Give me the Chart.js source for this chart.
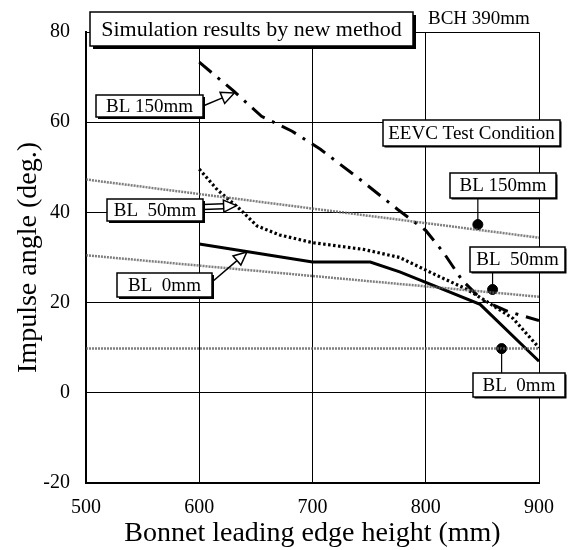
<!DOCTYPE html>
<html>
<head>
<meta charset="utf-8">
<script src="https://cdn.jsdelivr.net/npm/chart.js@4.4.1/dist/chart.umd.min.js"></script>
<style>
  html, body { margin: 0; padding: 0; background: #fff; }
</style>
</head>
<body>
<canvas id="impulseChart" width="574" height="550"></canvas>
<script>
// simulation results by new method
const bl150X = [600, 630, 655, 682, 707, 742, 775, 800, 816, 832, 850, 873, 900];
const bl150Y = [73.3, 67, 61.3, 58, 54, 47.3, 40.7, 36, 31, 25, 20.5, 18, 16];
const bl50X = [600, 616, 636, 651, 671, 700, 745, 777, 810, 836, 854, 877, 900];
const bl50Y = [49.6, 45, 40.7, 37, 35, 33.3, 31.8, 30, 26, 23, 20.2, 16.5, 10];
const bl0X = [600, 700, 751, 777, 800, 848, 900];
const bl0Y = [33, 29, 29, 26.8, 24.5, 19.6, 7];

// EEVC test condition lines
const eevcX = [500, 900];
const eevc150Y = [47.3, 34.4];
const eevc50Y = [30.5, 21.3];
const eevc0Y = [9.8, 9.8];
const eevcPtX = [846, 859, 867];
const eevcPtY = [37.3, 22.9, 9.8];

const xTicks = [500, 600, 700, 800, 900];
const yTicks = [-20, 0, 20, 40, 60, 80];

function pts(xs, ys) {
    return xs.map((x, i) => ({ x: x, y: ys[i] }));
}

const FONT = "'Liberation Serif', 'DejaVu Serif', serif";
const greyLine = {
    borderColor: 'rgba(95,95,95,0.8)',
    borderWidth: 2.5,
    borderDash: [2, 1],
    showLine: true,
    pointRadius: 0
};

// boxes, arrows and notes
const notesPlugin = {
    id: 'notes',
    afterDatasetsDraw(chart) {
        const ctx = chart.ctx;
        const xs = chart.scales.x, ys = chart.scales.y;

        function box(x1, y1, x2, y2, text, size, shadow) {
            ctx.save();
            if (shadow) {
                ctx.fillStyle = '#000';
                ctx.fillRect(x1 + shadow, y1 + shadow, x2 - x1, y2 - y1);
            }
            ctx.fillStyle = '#fff';
            ctx.fillRect(x1, y1, x2 - x1, y2 - y1);
            ctx.strokeStyle = '#000';
            ctx.lineWidth = 1.5;
            ctx.strokeRect(x1, y1, x2 - x1, y2 - y1);
            ctx.fillStyle = '#000';
            ctx.font = size + 'px ' + FONT;
            ctx.textAlign = 'center';
            ctx.textBaseline = 'middle';
            ctx.fillText(text, (x1 + x2) / 2, (y1 + y2) / 2 + 1);
            ctx.restore();
        }

        // hollow arrow head, single or double shaft
        function arrow(x1, y1, x2, y2, wide) {
            const ang = Math.atan2(y2 - y1, x2 - x1);
            const len = 13, half = 6;
            const c = Math.cos(ang), s = Math.sin(ang);
            const bx = x2 - len * c, by = y2 - len * s;
            ctx.save();
            ctx.strokeStyle = '#000';
            ctx.lineWidth = 1.5;
            ctx.beginPath();
            if (wide) {
                ctx.moveTo(x1 + wide * s, y1 - wide * c);
                ctx.lineTo(bx + wide * s, by - wide * c);
                ctx.moveTo(x1 - wide * s, y1 + wide * c);
                ctx.lineTo(bx - wide * s, by + wide * c);
            } else {
                ctx.moveTo(x1, y1);
                ctx.lineTo(bx, by);
            }
            ctx.stroke();
            ctx.beginPath();
            ctx.moveTo(x2, y2);
            ctx.lineTo(bx + half * s, by - half * c);
            ctx.lineTo(bx - half * s, by + half * c);
            ctx.closePath();
            ctx.fillStyle = '#fff';
            ctx.fill();
            ctx.stroke();
            ctx.restore();
        }

        function stem(x, yTop, yBottom) {
            ctx.save();
            ctx.strokeStyle = '#000';
            ctx.lineWidth = 1.2;
            ctx.beginPath();
            ctx.moveTo(x, yTop);
            ctx.lineTo(x, yBottom);
            ctx.stroke();
            ctx.restore();
        }

        // title box and BCH note
        box(90, 12, 413, 46, 'Simulation results by new method', 22, 3);
        ctx.save();
        ctx.fillStyle = '#000';
        ctx.font = '19px ' + FONT;
        ctx.textBaseline = 'middle';
        ctx.fillText('BCH 390mm', 428, 19);
        ctx.restore();

        // simulation labels
        arrow(203, 106, xs.getPixelForValue(631), ys.getPixelForValue(66.5));
        box(96, 95, 203, 117, 'BL 150mm', 19, 2);
        arrow(203, 207, xs.getPixelForValue(633), ys.getPixelForValue(41.5), 2.5);
        box(107, 199, 203, 221, 'BL  50mm', 19, 2);
        arrow(212, 282, xs.getPixelForValue(642), ys.getPixelForValue(31.2));
        box(117, 273, 212, 297, 'BL  0mm', 19, 2);

        // EEVC labels
        box(383, 120, 560, 146, 'EEVC Test Condition', 19, 1.5);
        const p150 = xs.getPixelForValue(eevcPtX[0]);
        const p50 = xs.getPixelForValue(eevcPtX[1]);
        const p0 = xs.getPixelForValue(eevcPtX[2]);
        stem(p150, 198, ys.getPixelForValue(eevcPtY[0]));
        stem(p50, 272, ys.getPixelForValue(eevcPtY[1]));
        stem(p0, 373, ys.getPixelForValue(eevcPtY[2]));
        box(450, 173, 556, 198, 'BL 150mm', 19, 1.5);
        box(470, 247, 565, 272, 'BL  50mm', 19, 1.5);
        box(473, 373, 565, 397, 'BL  0mm', 19, 1.5);
    }
};

const ctx = document.getElementById('impulseChart').getContext('2d');
const impulseChart = new Chart(ctx, {
    type: 'scatter',
    data: {
        datasets: [
            Object.assign({ data: pts(eevcX, eevc150Y) }, greyLine),
            Object.assign({ data: pts(eevcX, eevc50Y) }, greyLine),
            Object.assign({ data: pts(eevcX, eevc0Y) }, greyLine),
            {
                data: pts(bl150X, bl150Y),
                showLine: true,
                borderColor: '#000',
                borderWidth: 3,
                borderDash: [16, 8, 3, 8],
                pointRadius: 0
            },
            {
                data: pts(bl50X, bl50Y),
                showLine: true,
                borderColor: '#000',
                borderWidth: 3.2,
                borderDash: [2.5, 2.5],
                pointRadius: 0
            },
            {
                data: pts(bl0X, bl0Y),
                showLine: true,
                borderColor: '#000',
                borderWidth: 3,
                pointRadius: 0
            },
            {
                data: pts(eevcPtX, eevcPtY),
                showLine: false,
                pointRadius: 5,
                backgroundColor: '#000',
                borderColor: '#000'
            }
        ]
    },
    options: {
        responsive: false,
        animation: false,
        layout: { padding: { top: 32, right: 35, left: 0, bottom: 0 } },
        plugins: {
            legend: { display: false },
            tooltip: { enabled: false }
        },
        scales: {
            x: {
                type: 'linear',
                min: 500,
                max: 900,
                afterBuildTicks: (s) => { s.ticks = xTicks.map(v => ({ value: v })); },
                afterFit: (s) => { s.height = 67; },
                ticks: { color: '#000', padding: 13, font: { family: FONT, size: 20 } },
                grid: { color: '#000', lineWidth: 1, drawTicks: false },
                border: { color: '#000', width: 2 },
                title: {
                    display: true,
                    text: 'Bonnet leading edge height (mm)',
                    color: '#000',
                    font: { family: FONT, size: 28 },
                    padding: { top: 0, bottom: 0 }
                }
            },
            y: {
                min: -20,
                max: 80,
                afterBuildTicks: (s) => { s.ticks = yTicks.map(v => ({ value: v })); },
                afterFit: (s) => { s.width = 86; },
                ticks: { color: '#000', padding: 16, font: { family: FONT, size: 20 } },
                grid: { color: '#000', lineWidth: 1, drawTicks: false },
                border: { color: '#000', width: 2 },
                title: {
                    display: true,
                    text: 'Impulse angle (deg.)',
                    color: '#000',
                    font: { family: FONT, size: 28 },
                    padding: { top: 12, bottom: 0 }
                }
            }
        }
    },
    plugins: [notesPlugin]
});
</script>
</body>
</html>
